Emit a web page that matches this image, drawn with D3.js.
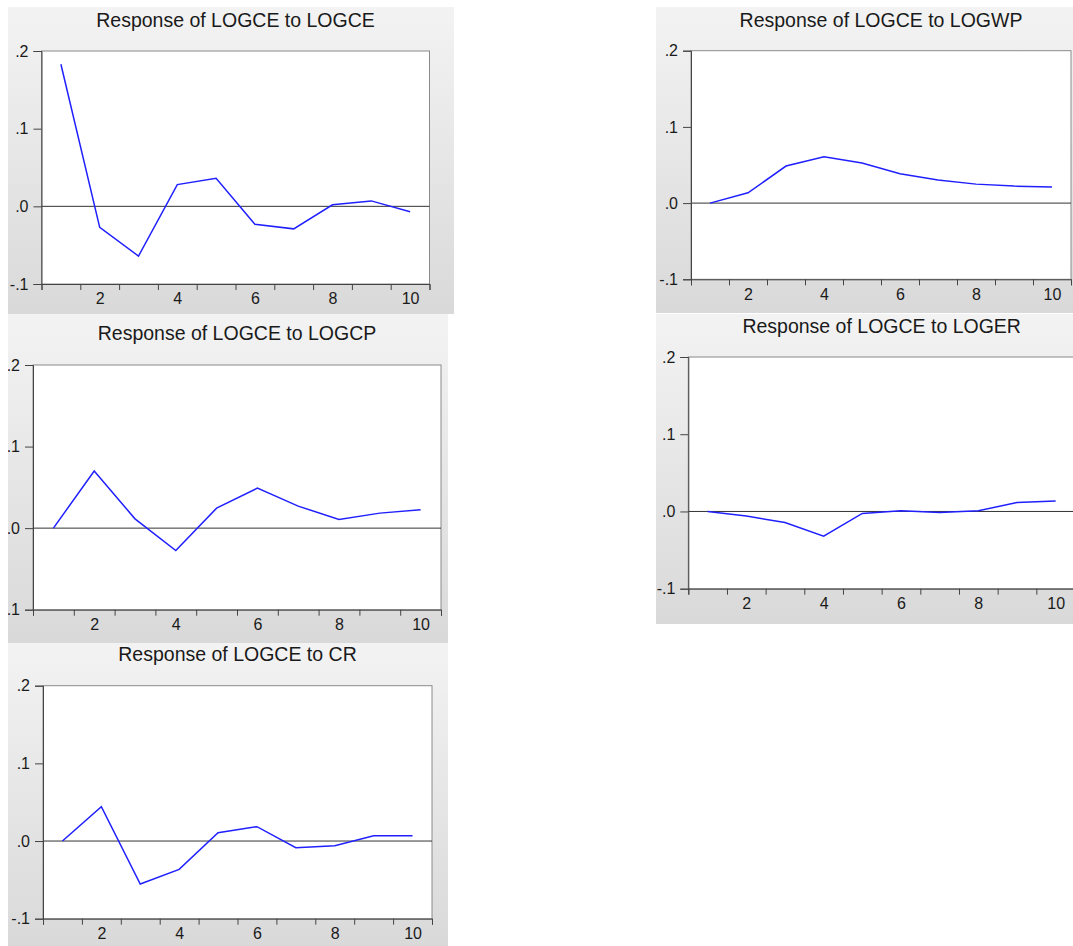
<!DOCTYPE html>
<html>
<head>
<meta charset="utf-8">
<script src="https://cdn.jsdelivr.net/npm/d3@7"></script>
<style>
  body { margin: 0; background: #fff; }
  svg { display: block; font-family: "Liberation Sans", Arial, sans-serif; }
</style>
</head>
<body>
<svg id="chart"></svg>
<script>
const width = 1073, height = 946;

// Impulse responses (periods 1..10)
const periods = [1, 2, 3, 4, 5, 6, 7, 8, 9, 10];
const respLOGCE = [0.183, -0.027, -0.064, 0.028, 0.036, -0.023, -0.029, 0.002, 0.007, -0.007];
const respLOGWP = [0.000, 0.0135, 0.0486, 0.0608, 0.0525, 0.0385, 0.0302, 0.0249, 0.0223, 0.021];
const respLOGCP = [0.000, 0.070, 0.0114, -0.0274, 0.0245, 0.049, 0.027, 0.0106, 0.0184, 0.0225];
const respLOGER = [0.000, -0.006, -0.0142, -0.0319, -0.0026, 0.0009, -0.0013, 0.0009, 0.0116, 0.0134];
const respCR    = [0.000, 0.0442, -0.0554, -0.0365, 0.0107, 0.0185, -0.0086, -0.006, 0.0069, 0.0069];

const titles = [
  "Response of LOGCE to LOGCE",
  "Response of LOGCE to LOGWP",
  "Response of LOGCE to LOGCP",
  "Response of LOGCE to LOGER",
  "Response of LOGCE to CR"
];
const series = [respLOGCE, respLOGWP, respLOGCP, respLOGER, respCR];

const yTicks = [-0.1, 0, 0.1, 0.2];
const yTickLabels = ["-.1", ".0", ".1", ".2"];
const xLabelTicks = [2, 4, 6, 8, 10];

// panel boxes: background rect + plot frame
const panels = [
  { bg: [8, 7, 446, 307],   plot: { l: 41.5, t: 51,   r: 429.5, b: 284 },   titleY: 26.7 },
  { bg: [656, 7, 417, 306], plot: { l: 691,  t: 50.7, r: 1071,  b: 279.3 }, titleY: 26.7 },
  { bg: [8, 314, 440, 329], plot: { l: 33,   t: 365,  r: 441,   b: 609.7 }, titleY: 340 },
  { bg: [656, 314, 417, 310], plot: { l: 688.3, t: 357, r: 1075, b: 588.7 }, titleY: 332.7 },
  { bg: [8, 643, 440, 303], plot: { l: 43,   t: 685.7, r: 432,  b: 918.7 }, titleY: 661 }
];

const svg = d3.select("#chart")
    .attr("width", width)
    .attr("height", height);

const defs = svg.append("defs");
const grad = defs.append("linearGradient")
    .attr("id", "bggrad")
    .attr("x1", 0).attr("y1", 0).attr("x2", 0).attr("y2", 1);
grad.append("stop").attr("offset", "0%").attr("stop-color", "#f3f3f3");
grad.append("stop").attr("offset", "100%").attr("stop-color", "#d9d9d9");

panels.forEach((p, i) => {
    const [bx, by, bw, bh] = p.bg;
    const clipId = "clip" + i;
    defs.append("clipPath").attr("id", clipId)
        .append("rect").attr("x", bx).attr("y", by).attr("width", bw).attr("height", bh);

    const g = svg.append("g").attr("clip-path", `url(#${clipId})`);

    g.append("rect")
        .attr("x", bx).attr("y", by)
        .attr("width", bw).attr("height", bh)
        .attr("fill", "url(#bggrad)");

    const x = d3.scaleLinear().domain([0.5, 10.5]).range([p.plot.l, p.plot.r]);
    const y = d3.scaleLinear().domain([-0.1, 0.2]).range([p.plot.b, p.plot.t]);

    // plot area
    g.append("rect")
        .attr("x", p.plot.l).attr("y", p.plot.t)
        .attr("width", p.plot.r - p.plot.l)
        .attr("height", p.plot.b - p.plot.t)
        .attr("fill", "#fff")
        .attr("stroke", "#8a8a8a")
        .attr("stroke-width", 1);

    // zero line
    g.append("line")
        .attr("x1", p.plot.l).attr("x2", p.plot.r)
        .attr("y1", y(0)).attr("y2", y(0))
        .attr("stroke", "#333")
        .attr("stroke-width", 1);

    // x axis: ticks at period boundaries, labels on even periods
    const xAxis = g.append("g")
        .attr("transform", `translate(0,${p.plot.b})`)
        .call(d3.axisBottom(x)
            .tickValues(d3.range(0.5, 11, 1))
            .tickSize(6)
            .tickFormat(""));
    xAxis.select(".domain").attr("stroke", "#444");
    xAxis.selectAll(".tick line").attr("stroke", "#444");

    const xLab = g.append("g")
        .attr("transform", `translate(0,${p.plot.b})`)
        .call(d3.axisBottom(x)
            .tickValues(xLabelTicks)
            .tickSize(0)
            .tickPadding(9));
    xLab.select(".domain").remove();
    xLab.selectAll("text")
        .attr("font-size", 16)
        .attr("font-family", "Liberation Sans, Arial, sans-serif")
        .attr("fill", "#1a1a1a");

    // y axis
    const yAxis = g.append("g")
        .attr("transform", `translate(${p.plot.l},0)`)
        .call(d3.axisLeft(y)
            .tickValues(yTicks)
            .tickSize(8)
            .tickPadding(5)
            .tickFormat((d, k) => yTickLabels[k]));
    yAxis.select(".domain").attr("stroke", "#444");
    yAxis.selectAll(".tick line").attr("stroke", "#444");
    yAxis.selectAll("text")
        .attr("font-size", 16)
        .attr("font-family", "Liberation Sans, Arial, sans-serif")
        .attr("fill", "#1a1a1a");

    // title
    g.append("text")
        .attr("x", (p.plot.l + p.plot.r) / 2)
        .attr("y", p.titleY)
        .attr("text-anchor", "middle")
        .attr("font-size", 19.5)
        .attr("fill", "#1a1a1a")
        .text(titles[i]);

    // response line
    const line = d3.line()
        .x((d, k) => x(periods[k]))
        .y(d => y(d));

    g.append("path")
        .datum(series[i])
        .attr("fill", "none")
        .attr("stroke", "#2020ff")
        .attr("stroke-width", 1.5)
        .attr("d", line);
});
</script>
</body>
</html>
